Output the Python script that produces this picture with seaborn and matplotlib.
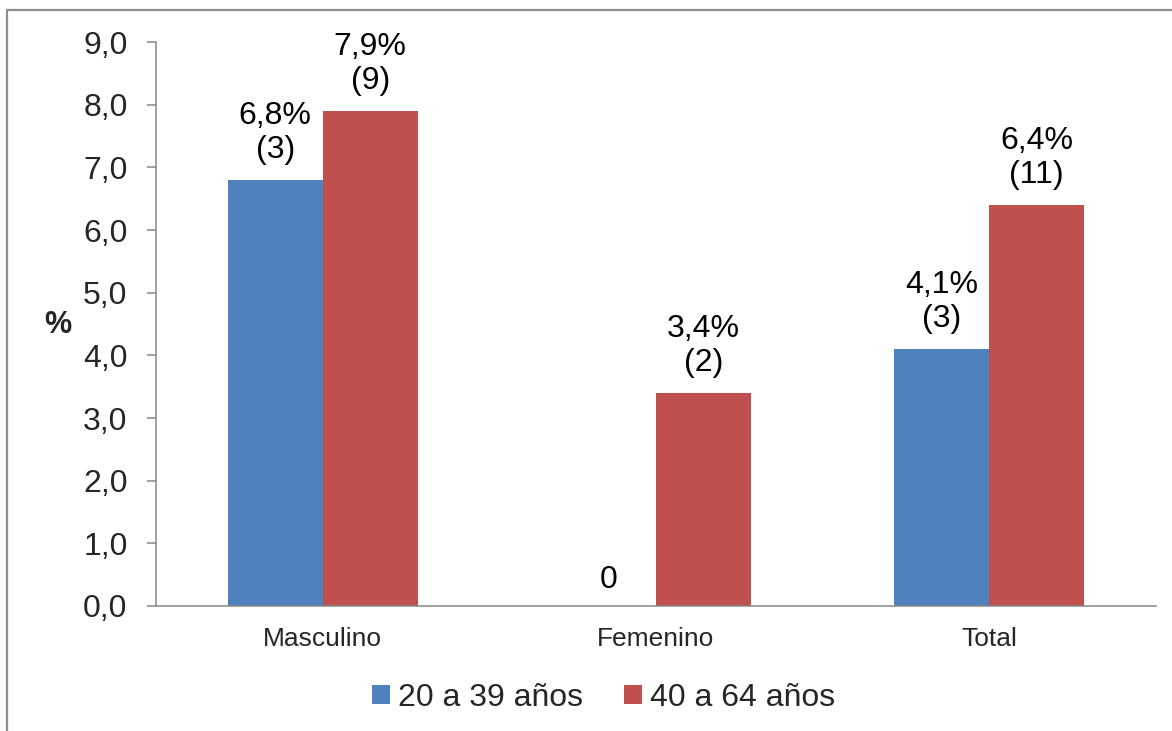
import matplotlib
matplotlib.use("Agg")
import matplotlib.pyplot as plt
from matplotlib.lines import Line2D
from matplotlib.patches import Patch
import seaborn as sns
import pandas as pd

# Data
sexos = ["Masculino", "Femenino", "Total"]
grupos = ["20 a 39 años", "40 a 64 años"]
pct_20_39 = [6.8, 0.0, 4.1]
pct_40_64 = [7.9, 3.4, 6.4]
n_20_39 = [3, 0, 3]
n_40_64 = [9, 2, 11]
y_ticks = [0.0, 1.0, 2.0, 3.0, 4.0, 5.0, 6.0, 7.0, 8.0, 9.0]
colores = ["#4F81BD", "#C0504D"]

df = pd.DataFrame({
    "sexo": sexos * 2,
    "grupo": [grupos[0]] * 3 + [grupos[1]] * 3,
    "pct": pct_20_39 + pct_40_64,
    "n": n_20_39 + n_40_64,
})

sns.set_theme(style="white")
plt.rcParams["font.family"] = ["Liberation Sans", "DejaVu Sans"]

fig = plt.figure(figsize=(11.72, 7.31), dpi=100)
ax = fig.add_axes([0.1331, 0.171, 0.8532, 0.7715])

sns.barplot(data=df, x="sexo", y="pct", hue="grupo", order=sexos,
            hue_order=grupos, palette=colores, width=0.57, gap=0,
            saturation=1, errorbar=None, legend=False, ax=ax,
            edgecolor="none", linewidth=0)

# Value labels above bars
for container, grupo in zip(ax.containers, grupos):
    sub = df[df["grupo"] == grupo].set_index("sexo").loc[sexos]
    for bar, (pct, n) in zip(container, zip(sub["pct"], sub["n"])):
        if pct == 0:
            txt, off = "0", 8
        else:
            txt, off = f"{pct:.1f}%".replace(".", ",") + f"\n({n})", 11
        ax.annotate(txt, (bar.get_x() + bar.get_width() / 2, bar.get_height()),
                    xytext=(0, off), textcoords="offset points",
                    ha="center", va="bottom", fontsize=23, linespacing=1.15,
                    color="black")

ax.set_ylim(0, 9)
ax.set_xlim(-0.5, 2.5)
ax.set_yticks(y_ticks)
ax.set_yticklabels([f"{v:.1f}".replace(".", ",") for v in y_ticks], fontsize=23)
ax.set_xticks(range(len(sexos)))
ax.set_xticklabels(sexos, fontsize=19)
ax.set_xticks([-0.5, 0.5, 1.5, 2.5], minor=True)
ax.tick_params(axis="x", which="major", length=0, pad=15)
ax.tick_params(axis="x", which="minor", length=6, width=1.1, color="#888888",
               direction="out")
ax.tick_params(axis="y", length=6.5, width=1.1, color="#888888",
               direction="out", pad=14, left=True)
ax.set_xlabel("")
ax.set_ylabel("")

for side in ["top", "right"]:
    ax.spines[side].set_visible(False)
for side in ["left", "bottom"]:
    ax.spines[side].set_color("#888888")
    ax.spines[side].set_linewidth(1.1)

fig.text(58 / 1172, 1 - 325 / 731, "%", fontsize=22, fontweight="bold",
         ha="center", va="center")

handles = [Patch(facecolor=c, edgecolor="none") for c in colores]
fig.legend(handles, grupos, loc="center", bbox_to_anchor=(0.515, 0.045),
           ncol=2, frameon=False, fontsize=23, handlelength=0.55,
           handleheight=0.55, handletextpad=0.25, columnspacing=1.3)

# Outer frame lines
fig.add_artist(Line2D([7 / 1172, 7 / 1172], [0, 1 - 10 / 731],
                      transform=fig.transFigure, color="#8c8c8c", lw=1.6))
fig.add_artist(Line2D([7 / 1172, 1], [1 - 10 / 731, 1 - 10 / 731],
                      transform=fig.transFigure, color="#8c8c8c", lw=1.6))

fig.savefig("out.png", dpi=100, facecolor="white")
